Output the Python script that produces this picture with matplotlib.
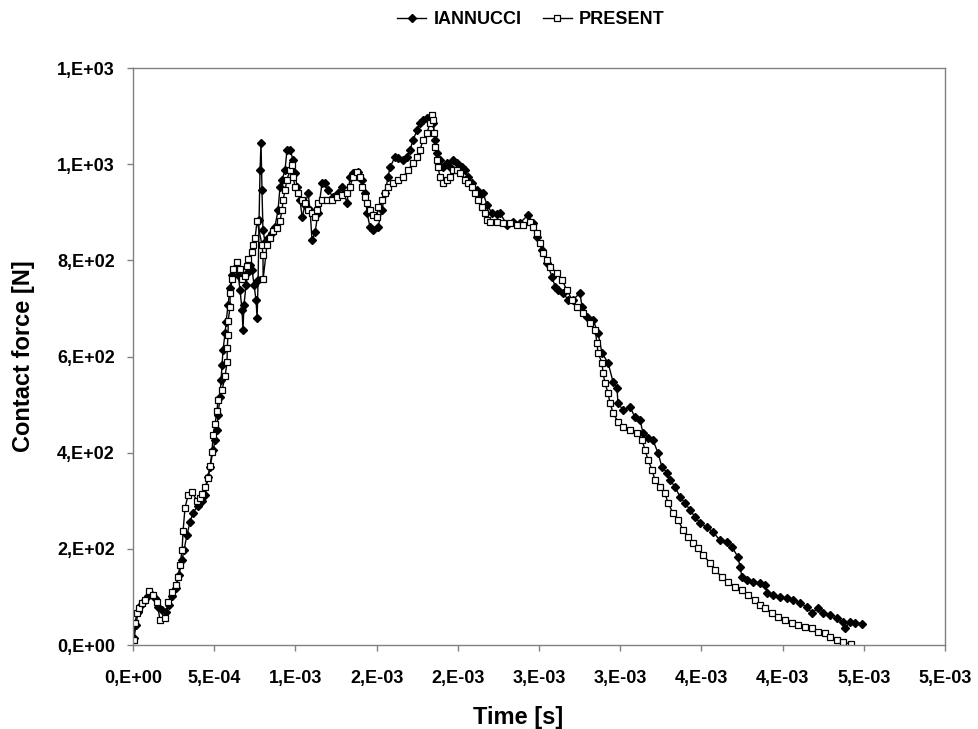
import matplotlib
matplotlib.use('Agg')
import matplotlib.pyplot as plt
import numpy as np

plt.rcParams['font.family'] = ['Liberation Sans', 'DejaVu Sans']

# IANNUCCI curve: time [ms], contact force [N]
iannucci_t = [0.006, 0.018, 0.031, 0.049, 0.068, 0.092, 0.111, 0.135, 0.154, 0.179,
              0.203, 0.222, 0.240, 0.265, 0.283, 0.302, 0.314, 0.332, 0.351, 0.369,
              0.400, 0.425, 0.443, 0.462, 0.474, 0.493, 0.505, 0.517, 0.523, 0.536,
              0.542, 0.548, 0.554, 0.567, 0.573, 0.585, 0.597, 0.610, 0.628, 0.647,
              0.659, 0.671, 0.677, 0.683, 0.696, 0.708, 0.720, 0.733, 0.745, 0.757,
              0.764, 0.770, 0.776, 0.782, 0.788, 0.794, 0.800, 0.813, 0.831, 0.856,
              0.874, 0.893, 0.905, 0.917, 0.936, 0.948, 0.967, 0.985, 0.998, 1.010,
              1.028, 1.041, 1.059, 1.078, 1.090, 1.102, 1.121, 1.139, 1.164, 1.182,
              1.201, 1.232, 1.262, 1.287, 1.318, 1.336, 1.355, 1.385, 1.410, 1.429,
              1.441, 1.459, 1.478, 1.509, 1.533, 1.552, 1.570, 1.583, 1.613, 1.632,
              1.663, 1.687, 1.706, 1.724, 1.749, 1.767, 1.786, 1.810, 1.829, 1.847,
              1.860, 1.872, 1.890, 1.909, 1.933, 1.952, 1.970, 1.995, 2.026, 2.044,
              2.063, 2.087, 2.118, 2.137, 2.155, 2.180, 2.211, 2.241, 2.260, 2.303,
              2.340, 2.383, 2.432, 2.463, 2.488, 2.518, 2.549, 2.580, 2.599, 2.617,
              2.648, 2.679, 2.709, 2.752, 2.765, 2.796, 2.833, 2.863, 2.888, 2.925,
              2.956, 2.980, 2.986, 3.017, 3.060, 3.091, 3.122, 3.140, 3.171, 3.202,
              3.233, 3.257, 3.288, 3.307, 3.337, 3.368, 3.399, 3.430, 3.461, 3.491,
              3.534, 3.571, 3.614, 3.658, 3.688, 3.725, 3.738, 3.750, 3.781, 3.818,
              3.861, 3.892, 3.904, 3.941, 3.984, 4.027, 4.064, 4.107, 4.150, 4.181,
              4.218, 4.249, 4.292, 4.335, 4.372, 4.384, 4.415, 4.446, 4.489]
iannucci_f = [15, 42, 69, 83, 92, 102, 106, 98, 79, 73,
              69, 83, 102, 119, 146, 177, 198, 229, 256, 275,
              290, 300, 312, 349, 370, 405, 426, 447, 478, 516,
              551, 582, 614, 649, 672, 707, 742, 770, 784, 770,
              738, 697, 655, 707, 749, 776, 790, 780, 749, 718,
              680, 759, 884, 988, 1044, 946, 863, 838, 847, 857,
              870, 905, 953, 967, 988, 1030, 1030, 1009, 982, 953,
              926, 890, 915, 940, 905, 842, 859, 898, 961, 961,
              946, 932, 940, 953, 919, 973, 982, 984, 967, 940,
              898, 870, 863, 870, 905, 940, 973, 994, 1015, 1013,
              1009, 1015, 1030, 1050, 1071, 1086, 1092, 1096, 1098, 1086,
              1050, 1023, 1009, 994, 1002, 994, 1009, 1002, 994, 988,
              973, 961, 946, 936, 940, 915, 898, 896, 898, 874,
              880, 878, 894, 878, 849, 822, 794, 766, 745, 738,
              732, 718, 718, 732, 703, 682, 676, 649, 607, 587,
              547, 534, 503, 489, 495, 474, 468, 441, 431, 426,
              399, 370, 358, 343, 329, 308, 295, 281, 266, 254,
              245, 235, 218, 214, 204, 183, 162, 141, 135, 131,
              129, 125, 108, 104, 100, 98, 94, 87, 79, 67,
              77, 67, 62, 56, 48, 35, 48, 46, 44]

# PRESENT curve: time [ms], contact force [N]
present_t = [0.006, 0.012, 0.025, 0.037, 0.055, 0.074, 0.099, 0.123, 0.148, 0.166,
             0.197, 0.216, 0.240, 0.265, 0.277, 0.289, 0.302, 0.308, 0.320, 0.339,
             0.363, 0.394, 0.413, 0.425, 0.443, 0.462, 0.474, 0.486, 0.493, 0.505,
             0.517, 0.523, 0.548, 0.567, 0.579, 0.580, 0.585, 0.586, 0.597, 0.598,
             0.610, 0.616, 0.640, 0.659, 0.671, 0.690, 0.702, 0.708, 0.733, 0.739,
             0.751, 0.764, 0.794, 0.800, 0.801, 0.825, 0.844, 0.862, 0.887, 0.905,
             0.917, 0.924, 0.936, 0.948, 0.967, 0.979, 0.985, 0.998, 1.016, 1.041,
             1.059, 1.078, 1.102, 1.121, 1.133, 1.139, 1.164, 1.195, 1.225, 1.256,
             1.287, 1.318, 1.336, 1.355, 1.379, 1.398, 1.410, 1.429, 1.441, 1.459,
             1.478, 1.502, 1.509, 1.533, 1.552, 1.570, 1.601, 1.632, 1.663, 1.693,
             1.724, 1.749, 1.767, 1.786, 1.810, 1.829, 1.841, 1.847, 1.853, 1.860,
             1.872, 1.878, 1.890, 1.909, 1.933, 1.952, 1.970, 1.995, 2.014, 2.044,
             2.063, 2.087, 2.106, 2.124, 2.149, 2.167, 2.180, 2.198, 2.241, 2.278,
             2.321, 2.365, 2.401, 2.445, 2.463, 2.488, 2.506, 2.525, 2.549, 2.568,
             2.611, 2.642, 2.672, 2.703, 2.734, 2.771, 2.814, 2.845, 2.857, 2.863,
             2.888, 2.894, 2.906, 2.925, 2.937, 2.956, 2.986, 3.017, 3.060, 3.103,
             3.134, 3.153, 3.171, 3.196, 3.214, 3.245, 3.276, 3.294, 3.325, 3.356,
             3.387, 3.417, 3.448, 3.479, 3.510, 3.553, 3.584, 3.627, 3.664, 3.707,
             3.750, 3.787, 3.830, 3.861, 3.892, 3.935, 3.972, 4.015, 4.058, 4.095,
             4.138, 4.181, 4.218, 4.261, 4.292, 4.335, 4.372, 4.421]
present_f = [10, 46, 67, 77, 87, 94, 112, 104, 89, 52,
             56, 89, 110, 125, 141, 166, 198, 237, 285, 312,
             318, 300, 305, 315, 328, 348, 372, 401, 437, 460,
             487, 510, 530, 559, 589, 618, 645, 674, 703, 732,
             761, 782, 797, 782, 761, 767, 789, 803, 817, 832,
             846, 882, 832, 811, 761, 832, 846, 861, 868, 882,
             904, 925, 947, 968, 988, 998, 973, 953, 940, 926,
             919, 905, 898, 890, 905, 919, 926, 926, 926, 932,
             936, 940, 953, 973, 984, 973, 953, 932, 919, 905,
             894, 890, 911, 926, 940, 953, 961, 967, 973, 988,
             1002, 1015, 1030, 1050, 1065, 1086, 1102, 1092, 1065, 1036,
             1009, 994, 973, 961, 967, 973, 988, 988, 982, 967,
             961, 953, 940, 926, 911, 898, 884, 880, 880, 878,
             878, 874, 874, 880, 870, 857, 836, 815, 801, 786,
             774, 759, 738, 718, 703, 690, 670, 655, 628, 607,
             587, 566, 545, 524, 503, 483, 464, 453, 447, 441,
             426, 406, 385, 364, 343, 329, 316, 295, 275, 260,
             239, 225, 212, 202, 187, 171, 156, 141, 131, 121,
             114, 104, 94, 83, 77, 67, 58, 52, 46, 42,
             37, 35, 27, 25, 17, 10, 6, 2]

x_ticks_ms = [0, 0.5, 1.0, 1.5, 2.0, 2.5, 3.0, 3.5, 4.0, 4.5, 5.0]
x_tick_labels = ['0,E+00', '5,E-04', '1,E-03', '2,E-03', '2,E-03', '3,E-03',
                 '3,E-03', '4,E-03', '4,E-03', '5,E-03', '5,E-03']
y_ticks = [0, 200, 400, 600, 800, 1000, 1200]
y_tick_labels = ['0,E+00', '2,E+02', '4,E+02', '6,E+02', '8,E+02', '1,E+03', '1,E+03']

fig = plt.figure(figsize=(9.79, 7.29), dpi=100)
ax = fig.add_axes([0.1359, 0.1152, 0.8294, 0.7915])

ax.plot(np.array(iannucci_t) * 1e-3, iannucci_f, color='black', lw=1.0,
        marker='D', ms=4, mfc='black', mec='black', label='IANNUCCI')
ax.plot(np.array(present_t) * 1e-3, present_f, color='black', lw=1.0,
        marker='s', ms=5, mfc='white', mec='black', mew=0.9, label='PRESENT')

ax.set_xlim(0, 5e-3)
ax.set_ylim(0, 1200)
ax.set_xticks(np.array(x_ticks_ms) * 1e-3)
ax.set_xticklabels(x_tick_labels)
ax.set_yticks(y_ticks)
ax.set_yticklabels(y_tick_labels)
ax.tick_params(axis='both', direction='out', length=4, color='#808080',
               labelsize=13, width=1)
ax.tick_params(axis='x', pad=14)
ax.tick_params(axis='y', pad=9)
for lab in ax.get_xticklabels() + ax.get_yticklabels():
    lab.set_fontweight('bold')
for sp in ax.spines.values():
    sp.set_color('#808080')
    sp.set_linewidth(1)

ax.set_xlabel('Time [s]', fontsize=17, fontweight='bold')
ax.xaxis.set_label_coords(0.474, -0.105)
ax.set_ylabel('Contact force [N]', fontsize=17, fontweight='bold', labelpad=16)

fig.legend(loc='center', bbox_to_anchor=(531 / 979, 1 - 20 / 729), ncol=2,
           frameon=False, prop={'weight': 'bold', 'size': 13},
           handlelength=1.6, handletextpad=0.4, columnspacing=1.2)

fig.savefig('out.png', dpi=100)
